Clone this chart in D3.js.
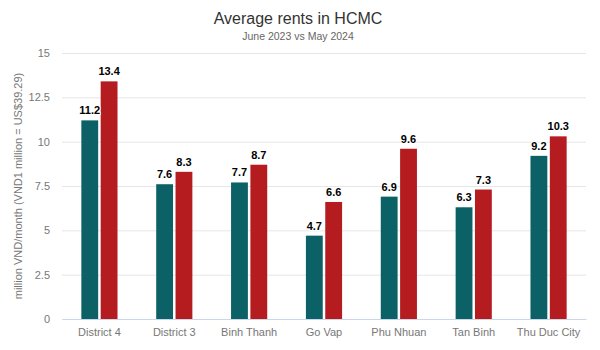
<!DOCTYPE html>
<html>
<head>
<meta charset="utf-8">
<script src="https://cdn.jsdelivr.net/npm/d3@7"></script>
<style>
  html, body { margin: 0; padding: 0; background: #fff; }
  svg { display: block; font-family: "Liberation Sans", Arial, Helvetica, sans-serif; }
</style>
</head>
<body>
<svg id="chart" width="600" height="350"></svg>
<script>
// Average rents by district, million VND per month
const districts = ["District 4", "District 3", "Binh Thanh", "Go Vap", "Phu Nhuan", "Tan Binh", "Thu Duc City"];
const june2023 = [11.2, 7.6, 7.7, 4.7, 6.9, 6.3, 9.2];
const may2024 = [13.4, 8.3, 8.7, 6.6, 9.6, 7.3, 10.3];
const seriesNames = ["June 2023", "May 2024"];
const seriesColors = ["#0b6166", "#b41c20"];
const yTicks = [0, 2.5, 5, 7.5, 10, 12.5, 15];

const svg = d3.select("#chart");
const margin = { top: 53, right: 14, bottom: 31, left: 62 };
const width = 600, height = 350;

const x = d3.scaleBand()
  .domain(districts)
  .range([margin.left, width - margin.right])
  .paddingInner(0)
  .paddingOuter(0);

const xInner = d3.scaleBand()
  .domain(seriesNames)
  .range([0, x.bandwidth()])
  .paddingInner(0.13)
  .paddingOuter(1.0);

const y = d3.scaleLinear()
  .domain([0, 15])
  .range([height - margin.bottom, margin.top]);

// Title and subtitle
svg.append("text")
  .attr("x", 298).attr("y", 24)
  .attr("text-anchor", "middle")
  .attr("font-size", 16)
  .attr("fill", "#333")
  .text("Average rents in HCMC");

svg.append("text")
  .attr("x", 298).attr("y", 40)
  .attr("text-anchor", "middle")
  .attr("font-size", 10.5)
  .attr("fill", "#666")
  .text("June 2023 vs May 2024");

// Horizontal gridlines and tick labels
const yAxis = d3.axisLeft(y)
  .tickValues(yTicks)
  .tickSize(-(width - margin.left - margin.right))
  .tickPadding(12)
  .tickFormat(d3.format("~g"));

const gy = svg.append("g")
  .attr("transform", `translate(${margin.left},0)`)
  .call(yAxis);
gy.select(".domain").remove();
gy.selectAll(".tick line").attr("stroke", "#e6e6e6");
gy.selectAll(".tick text")
  .attr("fill", "#777")
  .attr("font-size", 11)
  .attr("font-family", "Liberation Sans, Arial, sans-serif");

// Y axis title
svg.append("text")
  .attr("transform", `translate(22,${(margin.top + height - margin.bottom) / 2}) rotate(-90)`)
  .attr("text-anchor", "middle")
  .attr("font-size", 11)
  .attr("fill", "#777")
  .text("million VND/month (VND1 million = US$39.29)");

// Bars
const rows = districts.map((d, i) => ({ district: d, values: [june2023[i], may2024[i]] }));

const groups = svg.append("g").selectAll("g")
  .data(rows)
  .join("g")
  .attr("transform", d => `translate(${x(d.district)},0)`);

groups.selectAll("rect")
  .data(d => d.values.map((v, j) => ({ name: seriesNames[j], value: v, color: seriesColors[j] })))
  .join("rect")
  .attr("x", d => xInner(d.name))
  .attr("width", xInner.bandwidth())
  .attr("y", d => y(d.value))
  .attr("height", d => y(0) - y(d.value))
  .attr("fill", d => d.color);

// Value labels
groups.selectAll("text.value")
  .data(d => d.values.map((v, j) => ({ name: seriesNames[j], value: v })))
  .join("text")
  .attr("class", "value")
  .attr("x", d => xInner(d.name) + xInner.bandwidth() / 2)
  .attr("y", d => y(d.value) - 6)
  .attr("text-anchor", "middle")
  .attr("font-size", 11)
  .attr("font-weight", "bold")
  .attr("fill", "#000")
  .attr("stroke", "#fff")
  .attr("stroke-width", 2)
  .attr("paint-order", "stroke")
  .text(d => d3.format(".1f")(d.value));

// X axis
const xAxis = d3.axisBottom(x).tickSize(0).tickPadding(9);
const gx = svg.append("g")
  .attr("transform", `translate(0,${y(0)})`)
  .call(xAxis);
gx.select(".domain").attr("stroke", "#ccd6eb");
gx.selectAll(".tick text")
  .attr("fill", "#777")
  .attr("font-size", 11)
  .attr("font-family", "Liberation Sans, Arial, sans-serif");
</script>
</body>
</html>
